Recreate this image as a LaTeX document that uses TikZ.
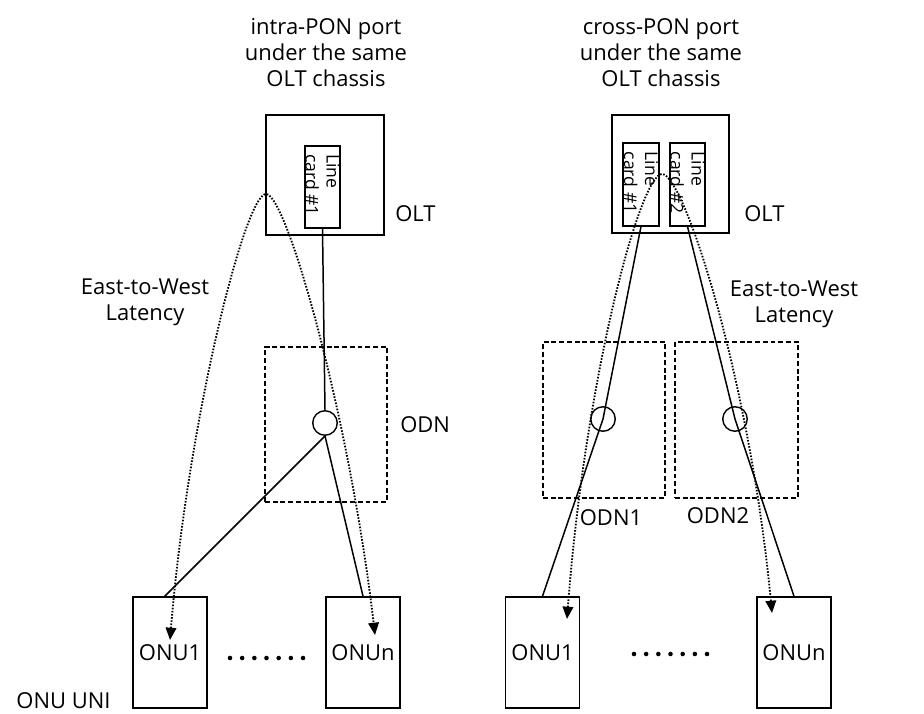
\documentclass[tikz,border=0pt]{standalone}
\usepackage{fontspec}
\setmainfont{Open Sans}
\usetikzlibrary{arrows.meta,calc}
\tikzset{
  box/.style={draw, line width=0.9pt, rectangle, inner sep=0pt},
  oltbox/.style={box, minimum width=2.36cm, minimum height=2.4cm},
  cardbox/.style={box, minimum width=0.71cm, minimum height=1.65cm},
  cardtext/.style={rotate=-90, anchor=west, align=left, inner sep=0pt,
    font=\fontsize{10}{12}\selectfont},
  odnbox/.style={draw, line width=0.8pt, dash pattern=on 2.8pt off 1.6pt,
    minimum width=2.44cm, minimum height=3.12cm, inner sep=0pt},
  onubox/.style={box, minimum width=1.48cm, minimum height=2.22cm,
    font=\fontsize{12.5}{15}\selectfont},
  splitter/.style={draw, circle, line width=0.8pt, minimum size=0.49cm, inner sep=0pt},
  fibre/.style={line width=0.85pt},
  latency/.style={line width=1.05pt, dash pattern=on 0.9pt off 0.9pt,
    {Triangle[length=7pt,width=6pt]}-{Triangle[length=7pt,width=6pt]}},
  lbl/.style={inner sep=0pt, align=center, font=\fontsize{12.5}{14.8}\selectfont}
}
\begin{document}
\begin{tikzpicture}[x=0.02cm, y=-0.02cm]
\useasboundingbox (0,0) rectangle (924,714);

% Marking titles
\node[lbl] (titleA) at (326,53) {intra-PON port\\under the same\\OLT chassis};
\node[lbl] (titleB) at (661,53) {cross-PON port\\under the same\\OLT chassis};

% Marking OLT chassis with line cards
\node[oltbox] (oltA) at (325,175) {};
\node[cardbox] (cardA) at (322.5,187) {};
\node[cardtext] (cardAt) at ($(cardA.north)+(0,9)$) {Line\\card \#1};
\node[lbl, anchor=west] (oltAl) at (395,214) {OLT};

\node[oltbox, minimum width=2.34cm, minimum height=2.36cm] (oltB) at (670.5,174) {};
\node[cardbox] (cardB1) at (641,184.5) {};
\node[cardtext] (cardB1t) at ($(cardB1.north)+(0,9)$) {Line\\card \#1};
\node[cardbox] (cardB2) at (687.5,184.5) {};
\node[cardtext] (cardB2t) at ($(cardB2.north)+(0,9)$) {Line\\card \#2};
\node[lbl, anchor=west] (oltBl) at (744,214) {OLT};

% Marking ODN areas
\node[odnbox, minimum height=3.1cm] (odnA) at (326,424.5) {};
\node[lbl, anchor=west] (odnAl) at (400,425) {ODN};
\node[odnbox] (odnB1) at (604,420) {};
\node[odnbox, minimum width=2.46cm] (odnB2) at (736.5,420) {};
\node[lbl] (odnB1l) at (611,518) {ODN1};
\node[lbl] (odnB2l) at (718,516) {ODN2};

% Marking splitters
\node[splitter] (splA) at (325,423) {};
\node[splitter] (splB1) at (603,419) {};
\node[splitter] (splB2) at (735,419) {};

% Marking ONUs
\node[onubox] (onuA1) at (170,652.5) {ONU1};
\node[onubox] (onuAn) at (363,652.5) {ONUn};
\node[onubox] (onuB1) at (542.5,652.5) {ONU1};
\node[onubox] (onuBn) at (794,652.5) {ONUn};
\node[lbl] (uni) at (63.5,701) {ONU UNI};
\foreach \i in {0,...,6} {
  \fill (230+12.17*\i,658) circle (1.3pt);
  \fill (634+12.17*\i,654) circle (1.3pt);
}

% Drawing fibres
\coordinate (dropA1) at (164,597);
\draw[fibre] (cardA.south) -- (splA.north);
\draw[fibre] (splA.south) -- (dropA1);
\draw[fibre] (splA.south) -- (onuAn.north);
\draw[fibre] (cardB1.south) -- (splB1.center) -- (onuB1.north);
\draw[fibre] (cardB2.south) -- (splB2.center) -- (onuBn.north);

% Drawing East-to-West latency
\coordinate (tipA1) at (170,640);
\coordinate (tipAn) at (375,635);
\coordinate (tipB1) at (567,619);
\coordinate (tipBn) at (772,613);
\draw[latency] (tipA1) .. controls (188,420) and (245,194) .. (266,194)
  .. controls (287,194) and (350,420) .. (tipAn);
\draw[latency] (tipB1) .. controls (585,380) and (640,174) .. (662,174)
  .. controls (684,174) and (750,380) .. (tipBn);
\node[lbl] (latA) at (145,302.5) {East-to-West\\Latency};
\node[lbl] (latB) at (794,304.5) {East-to-West\\Latency};
\end{tikzpicture}
\end{document}
